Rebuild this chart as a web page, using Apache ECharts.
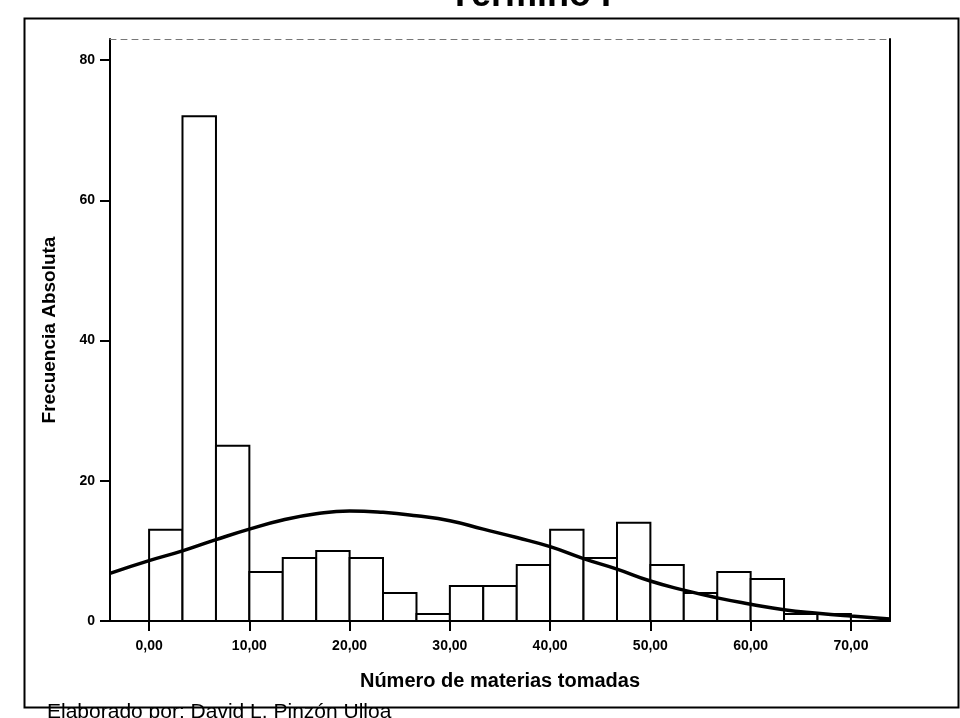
<!DOCTYPE html>
<html>
<head>
<meta charset="utf-8">
<script src="https://cdn.jsdelivr.net/npm/echarts@6/dist/echarts.min.js"></script>
<style>
html,body{margin:0;padding:0;background:#fff;}
#chart{width:960px;height:718px;}
</style>
</head>
<body>
<div id="chart"></div>
<script>
// Histogram bins (Número de materias tomadas)
var binStart = [0, 3.33, 6.67, 10, 13.33, 16.67, 20, 23.33, 26.67, 30, 33.33, 36.67, 40, 43.33, 46.67, 50, 53.33, 56.67, 60, 63.33, 66.67];
var binEnd   = [3.33, 6.67, 10, 13.33, 16.67, 20, 23.33, 26.67, 30, 33.33, 36.67, 40, 43.33, 46.67, 50, 53.33, 56.67, 60, 63.33, 66.67, 70];
var counts   = [13, 72, 25, 7, 9, 10, 9, 4, 1, 5, 5, 8, 13, 9, 14, 8, 4, 7, 6, 1, 1];

// Normal curve
var curveX = [-3.9, 0, 3.33, 6.67, 10, 13.33, 16.67, 20, 23.33, 26.67, 30, 33.33, 36.67, 40, 43.33, 46.67, 50, 53.33, 56.67, 60, 63.33, 66.67, 70, 73.9];
var curveY = [6.8, 8.6, 10.0, 11.6, 13.1, 14.4, 15.3, 15.7, 15.5, 15.0, 14.3, 13.1, 11.9, 10.6, 8.9, 7.4, 5.7, 4.4, 3.3, 2.4, 1.6, 1.1, 0.7, 0.3];

// Tick labels
var xTickValues = [0, 10, 20, 30, 40, 50, 60, 70];
var xTickLabels = ['0,00', '10,00', '20,00', '30,00', '40,00', '50,00', '60,00', '70,00'];
var yTickValues = [0, 20, 40, 60, 80];
var yTickLabels = ['0', '20', '40', '60', '80'];

var titleText = 'Término I';
var xName = 'Número de materias tomadas';
var yName = 'Frecuencia Absoluta';
var footer = 'Elaborado por: David L. Pinzón Ulloa';

var barData = binStart.map(function (s, i) { return [s, binEnd[i], counts[i]]; });
var curveData = curveX.map(function (x, i) { return [x, curveY[i]]; });

var FONT = '"Liberation Sans", Arial, sans-serif';
var chart = echarts.init(document.getElementById('chart'), null, {renderer: 'canvas'});
chart.setOption({
  animation: false,
  backgroundColor: '#ffffff',
  title: {
    text: titleText,
    left: 525, top: -27, textAlign: 'center',
    textStyle: {fontFamily: FONT, fontSize: 36, fontWeight: 'bold', color: '#000'}
  },
  grid: {left: 110, right: 70, top: 39, bottom: 97},
  xAxis: [{
    type: 'value', min: -3.9, max: 73.9,
    splitLine: {show: false},
    axisLine: {show: true, onZero: false, lineStyle: {color: '#000', width: 2}},
    axisTick: {show: true, length: 10, customValues: xTickValues, lineStyle: {color: '#000', width: 2}},
    axisLabel: {
      customValues: xTickValues, margin: 18,
      formatter: function (v) { var i = xTickValues.indexOf(v); return i >= 0 ? xTickLabels[i] : ''; },
      fontFamily: FONT, fontSize: 14, fontWeight: 'bold', color: '#000'
    },
    name: xName, nameLocation: 'middle', nameGap: 50,
    nameTextStyle: {fontFamily: FONT, fontSize: 20, fontWeight: 'bold', color: '#000'}
  }, {
    type: 'value', position: 'top', min: -3.9, max: 73.9,
    splitLine: {show: false},
    axisLine: {show: true, onZero: false, lineStyle: {color: '#777', width: 1, type: [6, 5]}},
    axisTick: {show: false}, axisLabel: {show: false}
  }],
  yAxis: [{
    type: 'value', min: 0, max: 83,
    splitLine: {show: false},
    axisLine: {show: true, onZero: false, lineStyle: {color: '#000', width: 2}},
    axisTick: {show: true, length: 10, customValues: yTickValues, lineStyle: {color: '#000', width: 2}},
    axisLabel: {
      customValues: yTickValues, margin: 15,
      formatter: function (v) { var i = yTickValues.indexOf(v); return i >= 0 ? yTickLabels[i] : ''; },
      fontFamily: FONT, fontSize: 14, fontWeight: 'bold', color: '#000'
    },
    name: yName, nameLocation: 'middle', nameGap: 51, nameRotate: 90,
    nameTextStyle: {fontFamily: FONT, fontSize: 19, fontWeight: 'bold', color: '#000'}
  }, {
    type: 'value', position: 'right', min: 0, max: 83,
    splitLine: {show: false},
    axisLine: {show: true, onZero: false, lineStyle: {color: '#000', width: 2}},
    axisTick: {show: false}, axisLabel: {show: false}
  }],
  series: [{
    type: 'custom',
    xAxisIndex: 0, yAxisIndex: 0,
    data: barData,
    renderItem: function (params, api) {
      var p0 = api.coord([api.value(0), 0]);
      var p1 = api.coord([api.value(1), api.value(2)]);
      return {
        type: 'rect',
        shape: {x: p0[0], y: p1[1], width: p1[0] - p0[0], height: p0[1] - p1[1]},
        style: {fill: '#fff', stroke: '#000', lineWidth: 2}
      };
    },
    z: 2
  }, {
    type: 'line',
    xAxisIndex: 0, yAxisIndex: 0,
    data: curveData,
    smooth: true, showSymbol: false,
    lineStyle: {color: '#000', width: 3.5},
    z: 3
  }],
  graphic: [{
    type: 'rect', left: 22, top: 16, silent: true,
    shape: {width: 934, height: 689},
    style: {fill: 'none', stroke: '#000', lineWidth: 2}
  }, {
    type: 'text', left: 47, top: 702, silent: true,
    style: {text: footer, font: '21px "Liberation Sans", Arial, sans-serif', fill: '#000'}
  }]
});
</script>
</body>
</html>
